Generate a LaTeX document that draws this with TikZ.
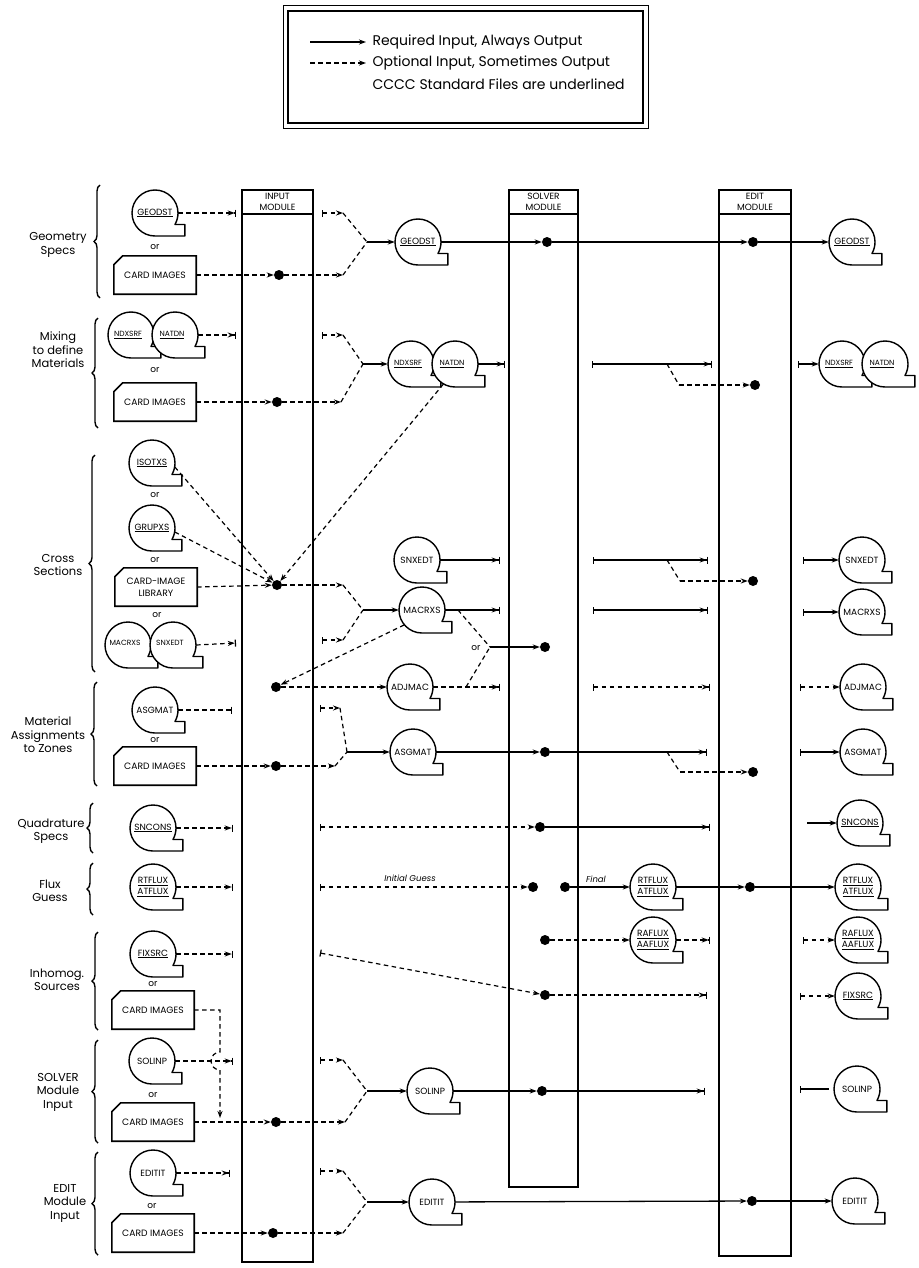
\documentclass[tikz,border=0pt]{standalone}
\usepackage{fontspec}
\setmainfont{Poppins}
\usetikzlibrary{arrows.meta,decorations.pathreplacing}
\newcommand\filetape[3]{%
  \node[tapenode] (#1) at (#2) {#3};
  \draw[tapeedge] (#1.center) ++(0pt,-23pt) arc[start angle=-90,end angle=-390,radius=23pt] -- ++(10pt,0pt) -- ++(0pt,-11.5pt) -- cycle;}
\newcommand\cardbox[3]{%
  \node[cardnode] (#1) at (#2) {#3};
  \draw[cardedge] ([yshift=-9pt]#1.north west) -- ([xshift=9pt]#1.north west) -- (#1.north east) -- (#1.south east) -- (#1.south west) -- cycle;}
\begin{document}
\begin{tikzpicture}[x=1pt,y=-1pt,
  req/.style={line width=1.3pt},
  opt/.style={line width=1.2pt,dash pattern=on 4.5pt off 3.5pt},
  tip/.style={-{Stealth[length=7pt,width=5pt]}},
  tipbar/.style={-{Stealth[length=7pt,width=5pt]Bar[width=7pt]}},
  bartip/.style={{Bar[width=7pt]}-{Stealth[length=7pt,width=5pt]}},
  bartipbar/.style={{Bar[width=7pt]}-{Stealth[length=7pt,width=5pt]Bar[width=7pt]}},
  endbar/.style={-{Bar[width=7pt]}},
  barend/.style={{Bar[width=7pt]}-},
  tapenode/.style={circle,minimum size=46pt,inner sep=0pt,fill=white,font=\fontsize{9}{11}\selectfont,align=center},
  pairtext/.style={font=\fontsize{7.5}{8}\selectfont,inner sep=0pt},
  tapeedge/.style={line width=1.4pt,line join=round},
  cardnode/.style={rectangle,minimum width=82pt,minimum height=38pt,inner sep=0pt,fill=white,font=\fontsize{9.2}{12}\selectfont,align=center},
  cardedge/.style={line width=1.6pt},
  dotn/.style={circle,fill,inner sep=0pt,minimum size=10pt},
  ortext/.style={font=\fontsize{9}{9}\selectfont},
  grp/.style={font=\fontsize{11.5}{13.5}\selectfont,align=center},
  brc/.style={decorate,decoration={brace,amplitude=6pt},line width=1.4pt},
  modcol/.style={line width=1.2pt},
  modhead/.style={font=\fontsize{9}{10.5}\selectfont,align=center},
  leg/.style={font=\fontsize{14}{16}\selectfont,anchor=west},
  itl/.style={font=\fontsize{8.5}{9}\selectfont\itshape}
]
\useasboundingbox (0,0) rectangle (918,1268);
% ---------------- legend
\draw[line width=0.8pt] (283,5) rectangle (648,128);
\draw[line width=2pt] (288,11) rectangle (643,123);
\coordinate (l1a) at (310,42); \coordinate (l1b) at (366,42);
\draw[req,tip] (l1a) -- (l1b);
\node[leg] (lt1) at (369,42) {Required Input, Always Output};
\coordinate (l2a) at (310,63); \coordinate (l2b) at (366,63);
\draw[opt,tip] (l2a) -- (l2b);
\node[leg] (lt2) at (369,63) {Optional Input, Sometimes Output};
\node[leg] (lt3) at (369,84) {CCCC Standard Files are underlined};
% ---------------- module columns
\draw[modcol] (242,190) rectangle (313,1262);
\draw[modcol] (242,214) -- (313,214);
\node[modhead] (hin) at (277.5,202) {INPUT\\MODULE};
\draw[modcol] (509,190) rectangle (578,1187);
\draw[modcol] (509,214) -- (578,214);
\node[modhead] (hso) at (543.5,202) {SOLVER\\MODULE};
\draw[modcol] (719,190) rectangle (791,1256);
\draw[modcol] (719,214) -- (791,214);
\node[modhead] (hed) at (755,202) {EDIT\\MODULE};
% ---------------- braces and group labels
\draw[brc] (100,298) -- (100,185);
\node[grp] (lg) at (58,245) {Geometry\\Specs};
\draw[brc] (98,428) -- (98,318);
\node[grp] (lm) at (58,350) {Mixing\\to define\\Materials};
\draw[brc] (95,672) -- (95,455);
\node[grp] (lx) at (58,565) {Cross\\Sections};
\draw[brc] (97,786) -- (97,682);
\node[grp] (la) at (48,735) {Material\\Assignments\\to Zones};
\draw[brc] (93,853) -- (93,803);
\node[grp] (lq) at (51,831) {Quadrature\\Specs};
\draw[brc] (93,915) -- (93,863);
\node[grp] (lf) at (50,891) {Flux\\Guess};
\draw[brc] (98,1030) -- (98,932);
\node[grp] (li) at (57,980) {Inhomog.\\Sources};
\draw[brc] (98,1143) -- (98,1040);
\node[grp] (ls) at (58,1092) {SOLVER\\Module\\Input};
\draw[brc] (98,1255) -- (98,1152);
\node[grp] (le) at (65,1203) {EDIT\\Module\\Input};
% ================= Geometry
\filetape{ga}{155,213}{\underline{GEODST}}
\node[ortext] (or1) at (155,247) {or};
\cardbox{ca}{155,275}{CARD IMAGES}
\node[dotn] (d1) at (279,275) {};
\coordinate (t1) at (236,213);
\draw[opt,tipbar] (ga.east) -- (t1);
\draw[opt,tip] (ca.east) -- (d1);
\coordinate (u1) at (322,213); \coordinate (u1b) at (343,213);
\coordinate (j1) at (367,242); \coordinate (w1) at (343,275);
\draw[opt,bartip] (u1) -- (u1b); \draw[opt] (u1b) -- (j1);
\draw[opt,tip] (d1) -- (w1); \draw[opt] (w1) -- (j1);
\filetape{gb}{418,242}{\underline{GEODST}}
\draw[req,tip] (j1) -- (gb);
\node[dotn] (d2) at (547,242) {};
\node[dotn] (d3) at (753,242) {};
\filetape{gc}{852,242}{\underline{GEODST}}
\draw[req,tip] (gb) -- (d2);
\draw[req,tip] (d2) -- (d3);
\draw[req,tip] (d3) -- (gc);
% ================= Mixing
\filetape{ma}{131,335}{}
\filetape{mb}{175,335}{}
\node[pairtext] (mat) at (128,335) {\underline{NDXSRF}};
\node[pairtext] (mbt) at (172,335) {\underline{NATDN}};
\node[ortext] (or2) at (155,370) {or};
\cardbox{cb}{155,402}{CARD IMAGES}
\node[dotn] (d4) at (277,402) {};
\coordinate (t2) at (236,335);
\draw[opt,tipbar] (mb.east) -- (t2);
\draw[opt,tip] (cb.east) -- (d4);
\coordinate (u2) at (322,335); \coordinate (u2b) at (343,335);
\coordinate (j2) at (363,364); \coordinate (w2) at (341,402);
\draw[opt,bartip] (u2) -- (u2b); \draw[opt] (u2b) -- (j2);
\draw[opt,tip] (d4) -- (w2); \draw[opt] (w2) -- (j2);
\filetape{mc}{411,364}{}
\filetape{md}{455,364}{}
\node[pairtext] (mct) at (408,364) {\underline{NDXSRF}};
\node[pairtext] (mdt) at (452,364) {\underline{NATDN}};
\draw[req,tip] (j2) -- (mc);
\coordinate (t3) at (505,364);
\draw[req,tipbar] (md.east) -- (t3);
\coordinate (s2a) at (592,364); \coordinate (s2b) at (712,364);
\draw[req,bartipbar] (s2a) -- (s2b);
\coordinate (b2) at (667,364); \coordinate (b2k) at (679,385);
\node[dotn] (d5) at (755,385) {};
\draw[opt] (b2) -- (b2k); \draw[opt,tip] (b2k) -- (d5);
\coordinate (r2) at (798,364);
\filetape{me}{842,364}{}
\filetape{mf}{885,364}{}
\node[pairtext] (met) at (839,364) {\underline{NDXSRF}};
\node[pairtext] (mft) at (882,364) {\underline{NATDN}};
\draw[req,bartip] (r2) -- (me);
% ================= Cross sections
\filetape{xa}{152,463}{\underline{ISOTXS}}
\node[ortext] (or3) at (155,495) {or};
\filetape{xb}{152,528}{\underline{GRUPXS}}
\node[ortext] (or4) at (155,560) {or};
\cardbox{cc}{156,587}{CARD-IMAGE\\LIBRARY}
\node[ortext] (or6) at (157,615) {or};
\filetape{xc}{128,645}{}
\filetape{xd}{173,645}{}
\node[pairtext] (xct) at (125,643) {MACRXS};
\node[pairtext] (xdt) at (170,643) {SNXEDT};
\node[dotn] (d6) at (277,585) {};
\draw[opt,tip] (xa.-10) -- (d6);
\draw[opt,tip] (xb.-10) -- (d6);
\draw[opt,tip] (cc.east) -- (d6);
\draw[opt,tip] (md.240) -- (d6);
\coordinate (t4) at (236,643);
\draw[opt,tipbar] (xd.east) -- (t4);
\coordinate (w3) at (343,585); \coordinate (j3) at (363,610);
\draw[opt,tip] (d6) -- (w3); \draw[opt] (w3) -- (j3);
\coordinate (u3) at (322,640); \coordinate (u3b) at (343,640);
\draw[opt,bartip] (u3) -- (u3b); \draw[opt] (u3b) -- (j3);
\filetape{xe}{417,560}{SNXEDT}
\filetape{xf}{422,610}{MACRXS}
\draw[req,tip] (j3) -- (xf);
\coordinate (t5) at (500,560); \coordinate (t6) at (500,610);
\draw[req,tipbar] (xe.east) -- (t5);
\draw[req,tipbar] (xf.east) -- (t6);
\coordinate (s3a) at (593,560); \coordinate (s3b) at (708,560);
\draw[req,bartipbar] (s3a) -- (s3b);
\coordinate (b3) at (667,560); \coordinate (b3k) at (680,581);
\node[dotn] (d7) at (753,581) {};
\draw[opt] (b3) -- (b3k); \draw[opt,tip] (b3k) -- (d7);
\coordinate (s4a) at (593,610); \coordinate (s4b) at (708,610);
\draw[req,bartipbar] (s4a) -- (s4b);
\coordinate (r3) at (803,560); \coordinate (r4) at (803,612);
\filetape{xg}{862,560}{SNXEDT}
\filetape{xh}{862,612}{MACRXS}
\draw[req,bartip] (r3) -- (xg);
\draw[req,bartip] (r4) -- (xh);
% "or" junction
\coordinate (oj) at (490,647);
\coordinate (ob1) at (458,610);
\coordinate (ob2) at (466,687);
\draw[opt] (ob1) -- (oj);
\draw[opt] (ob2) -- (oj);
\node[ortext,anchor=east] (or5) at (484,648) {or};
\node[dotn] (d8) at (545,647) {};
\draw[req,tip] (oj) -- (d8);
% ADJMAC
\node[dotn] (d9) at (276,687) {};
\draw[opt,tip] (xf.-140) -- (d9);
\filetape{xi}{410,687}{ADJMAC}
\draw[opt,tip] (d9) -- (xi);
\coordinate (t7) at (500,687);
\draw[opt,tipbar] (xi.east) -- (t7);
\coordinate (s5a) at (593,687); \coordinate (s5b) at (710,687);
\draw[opt,bartipbar] (s5a) -- (s5b);
\coordinate (r5) at (800,687);
\filetape{xj}{863,687}{ADJMAC}
\draw[opt,bartip] (r5) -- (xj);
% ================= Material assignments
\filetape{aa}{155,710}{ASGMAT}
\node[ortext] (or7) at (155,740) {or};
\cardbox{ac}{155,766}{CARD IMAGES}
\node[dotn] (d10) at (276,766) {};
\coordinate (t8) at (232,710);
\draw[opt,endbar] (aa.east) -- (t8);
\draw[opt,tip] (ac.east) -- (d10);
\coordinate (u4) at (320,708); \coordinate (u4b) at (340,708);
\coordinate (j4) at (347,752); \coordinate (w4) at (335,766);
\draw[opt,bartip] (u4) -- (u4b); \draw[opt] (u4b) -- (j4);
\draw[opt,tip] (d10) -- (w4); \draw[opt] (w4) -- (j4);
\filetape{ab}{413,752}{ASGMAT}
\draw[req,tip] (j4) -- (ab);
\node[dotn] (d11) at (545,752) {};
\draw[req,tip] (ab) -- (d11);
\coordinate (t9) at (707,752);
\draw[req,tipbar] (d11) -- (t9);
\coordinate (b4) at (667,752); \coordinate (b4k) at (680,772);
\node[dotn] (d12) at (753,772) {};
\draw[opt] (b4) -- (b4k); \draw[opt,tip] (b4k) -- (d12);
\coordinate (r6) at (800,752);
\filetape{ad}{863,752}{ASGMAT}
\draw[req,bartip] (r6) -- (ad);
% ================= Quadrature
\filetape{qa}{153,828}{\underline{SNCONS}}
\coordinate (t10) at (233,828);
\draw[opt,tipbar] (qa.east) -- (t10);
\coordinate (u5) at (320,827);
\node[dotn] (d13) at (540,827) {};
\draw[opt,bartip] (u5) -- (d13);
\coordinate (t11) at (710,827);
\draw[req,tipbar] (d13) -- (t11);
\coordinate (r7) at (807,823);
\filetape{qc}{860,823}{\underline{SNCONS}}
\draw[req,tip] (r7) -- (qc);
% ================= Flux guess
\filetape{fa}{153,887}{\underline{RTFLUX}\\\underline{ATFLUX}}
\coordinate (t12) at (233,887);
\draw[opt,tipbar] (fa.east) -- (t12);
\coordinate (u6) at (320,887);
\node[dotn] (d14) at (533,887) {};
\draw[opt,bartip] (u6) -- (d14);
\node[itl] (ig) at (410,878) {Initial Guess};
\node[dotn] (d15) at (565,887) {};
\node[itl] (fin) at (596,879) {Final};
\filetape{fb}{653,887}{\underline{RTFLUX}\\\underline{ATFLUX}}
\draw[req,tip] (d15) -- (fb);
\node[dotn] (d16) at (750,887) {};
\filetape{fc}{858,887}{\underline{RTFLUX}\\\underline{ATFLUX}}
\draw[req,tip] (fb) -- (d16);
\draw[req,tip] (d16) -- (fc);
\filetape{fd}{653,940}{\underline{RAFLUX}\\\underline{AAFLUX}}
\node[dotn] (d17) at (545,940) {};
\draw[opt,tip] (d17) -- (fd);
\coordinate (t13) at (710,940);
\draw[opt,tipbar] (fd.east) -- (t13);
\coordinate (r8) at (803,940);
\filetape{fe}{858,940}{\underline{RAFLUX}\\\underline{AAFLUX}}
\draw[opt,bartip] (r8) -- (fe);
% ================= Inhomogeneous sources
\filetape{ia}{153,954}{\underline{FIXSRC}}
\coordinate (t14) at (233,954);
\draw[opt,tipbar] (ia.east) -- (t14);
\node[ortext] (or8) at (153,984) {or};
\cardbox{ic}{153,1010}{CARD IMAGES}
\coordinate (u7) at (320,953);
\node[dotn] (d18) at (545,995) {};
\draw[opt,bartip] (u7) -- (d18);
\coordinate (t15) at (707,995);
\draw[opt,tipbar] (d18) -- (t15);
\coordinate (r9) at (800,996);
\filetape{ib}{858,996}{\underline{FIXSRC}}
\draw[opt,bartip] (r9) -- (ib);
\coordinate (h1) at (220,1010); \coordinate (h2) at (220,1052); \coordinate (h4) at (220,1118);
\draw[opt,tip] (ic.east) -- (h1) -- (h2) arc[start angle=90,end angle=270,radius=9pt] -- (h4);
% ================= SOLVER module input
\filetape{sa}{152,1061}{SOLINP}
\coordinate (t16) at (233,1061);
\draw[opt,tipbar] (sa.east) -- (t16);
\node[ortext] (or9) at (153,1095) {or};
\cardbox{sc}{153,1122}{CARD IMAGES}
\node[dotn] (d19) at (276,1122) {};
\draw[opt,tip] (sc.east) -- (d19);
\coordinate (u8) at (320,1060); \coordinate (u8b) at (343,1060);
\coordinate (j5) at (367,1091); \coordinate (w5) at (345,1122);
\draw[opt,bartip] (u8) -- (u8b); \draw[opt] (u8b) -- (j5);
\draw[opt,tip] (d19) -- (w5); \draw[opt] (w5) -- (j5);
\filetape{sb}{430,1091}{SOLINP}
\draw[req,tip] (j5) -- (sb);
\node[dotn] (d20) at (542,1091) {};
\draw[req,tip] (sb) -- (d20);
\coordinate (t17) at (705,1091);
\draw[req,tipbar] (d20) -- (t17);
\coordinate (r10) at (800,1089); \coordinate (r10b) at (829,1089);
\filetape{sd}{857,1089}{SOLINP}
\draw[req,barend] (r10) -- (r10b);
% ================= EDIT module input
\filetape{ea}{153,1173}{EDITIT}
\coordinate (t18) at (230,1173);
\draw[opt,tipbar] (ea.east) -- (t18);
\node[ortext] (or10) at (152,1206) {or};
\cardbox{ec}{153,1233}{CARD IMAGES}
\node[dotn] (d21) at (273,1233) {};
\draw[opt,tip] (ec.east) -- (d21);
\coordinate (u9) at (320,1171); \coordinate (u9b) at (343,1171);
\coordinate (j6) at (367,1202); \coordinate (w6) at (343,1233);
\draw[opt,bartip] (u9) -- (u9b); \draw[opt] (u9b) -- (j6);
\draw[opt,tip] (d21) -- (w6); \draw[opt] (w6) -- (j6);
\filetape{eb}{432,1202}{EDITIT}
\draw[req,tip] (j6) -- (eb);
\node[dotn] (d22) at (752,1201) {};
\filetape{ed}{855,1201}{EDITIT}
\draw[req,tip] (eb) -- (d22);
\draw[req,tip] (d22) -- (ed);
\end{tikzpicture}
\end{document}
